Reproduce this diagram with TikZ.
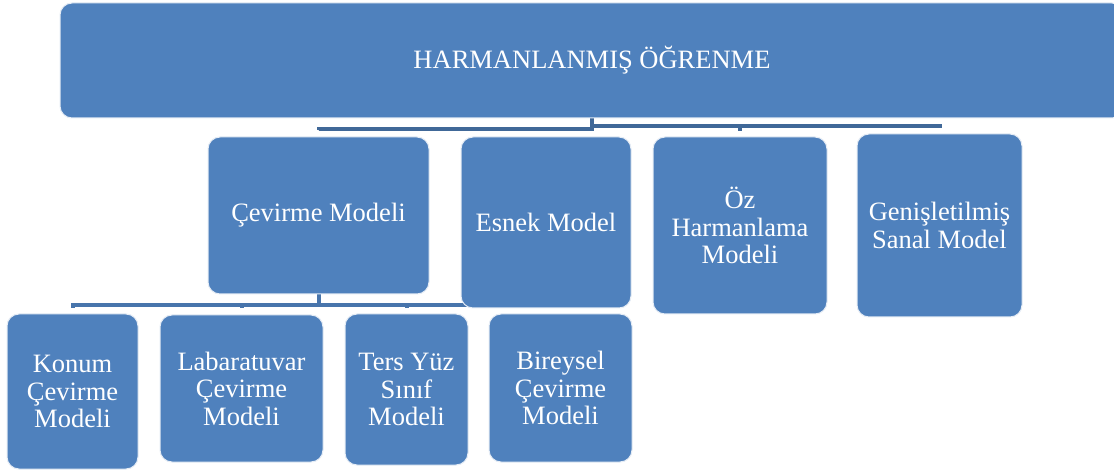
\documentclass[tikz,border=0pt]{standalone}
\usepackage{fontspec}
\setmainfont{Liberation Serif}
\pgfdeclarelayer{paper}
\pgfdeclarelayer{links}
\pgfsetlayers{paper,links,main}
\definecolor{boxblue}{RGB}{79,129,189}
\definecolor{linkdark}{RGB}{64,104,152}
\definecolor{linklight}{RGB}{72,117,172}
\tikzset{
  box/.style={draw=white!85!boxblue, line width=1pt, fill=boxblue, rounded corners=12pt,
    text=white, align=center, inner sep=0pt,
    font=\fontsize{26.5}{27.5}\selectfont},
  conn/.style={line width=4pt, draw=#1},
}
\begin{document}
\begin{tikzpicture}[x=1pt, y=-1pt]
  \useasboundingbox (0,0) rectangle (1114,470);
  \clip (0,0) rectangle (1114,470);
  \begin{pgfonlayer}{paper}
    \fill[white] (0,0) rectangle (1114,470);
  \end{pgfonlayer}

  % root
  \node[box, minimum width=1064pt, minimum height=115pt] (top) at (592,60.5) {HARMANLANMIŞ ÖĞRENME};

  % first level
  \node[box, minimum width=221pt, minimum height=157pt] (cev) at (318.5,215.5) {Çevirme Modeli};
  \node[box, minimum width=170pt, minimum height=171pt] (esnek) at (546,222.5) {Esnek Model};
  \node[box, minimum width=174pt, minimum height=177pt] (oz) at (740,225.5) {Öz\\Harmanlama\\Modeli};
  \node[box, minimum width=165pt, minimum height=183pt] (gen) at (939.5,225.5) {Genişletilmiş\\Sanal Model};

  % second level
  \node[box, minimum width=131pt, minimum height=155pt] (konum) at (72.5,391.5) {Konum\\Çevirme\\Modeli};
  \node[box, minimum width=163pt, minimum height=147pt] (lab) at (241.5,388.5) {Labaratuvar\\Çevirme\\Modeli};
  \node[box, minimum width=123pt, minimum height=151pt] (ters) at (406.5,389.5) {Ters Yüz\\Sınıf\\Modeli};
  \node[box, minimum width=143pt, minimum height=148pt] (bir) at (560.5,388) {Bireysel\\Çevirme\\Modeli};

  % connectors, kept behind the boxes (y grows downwards here)
  \begin{pgfonlayer}{links}
    \draw[conn=linkdark, shorten >=6pt] (top.south) -- ++(0,10.5) -| (cev.north);
    \draw[conn=linkdark, shorten >=5pt] (top.south) -- ++(0,10.5) -| (esnek.north);
    \draw[conn=linkdark, shorten >=5pt] (top.south) -- ++(0,8) -| (oz.north);
    \draw[conn=linkdark, shorten >=5pt] (top.south) -- ++(0,8) -| (gen.north);

    \draw[conn=linklight, shorten >=5pt] (cev.south) -- ++(0,11) -| (konum.north);
    \draw[conn=linklight, shorten >=6pt] (cev.south) -- ++(0,11) -| (lab.north);
    \draw[conn=linklight, shorten >=5pt] (cev.south) -- ++(0,11) -| (ters.north);
    \draw[conn=linklight, shorten >=5pt] (cev.south) -- ++(0,11) -| (bir.north);
  \end{pgfonlayer}
\end{tikzpicture}
\end{document}
